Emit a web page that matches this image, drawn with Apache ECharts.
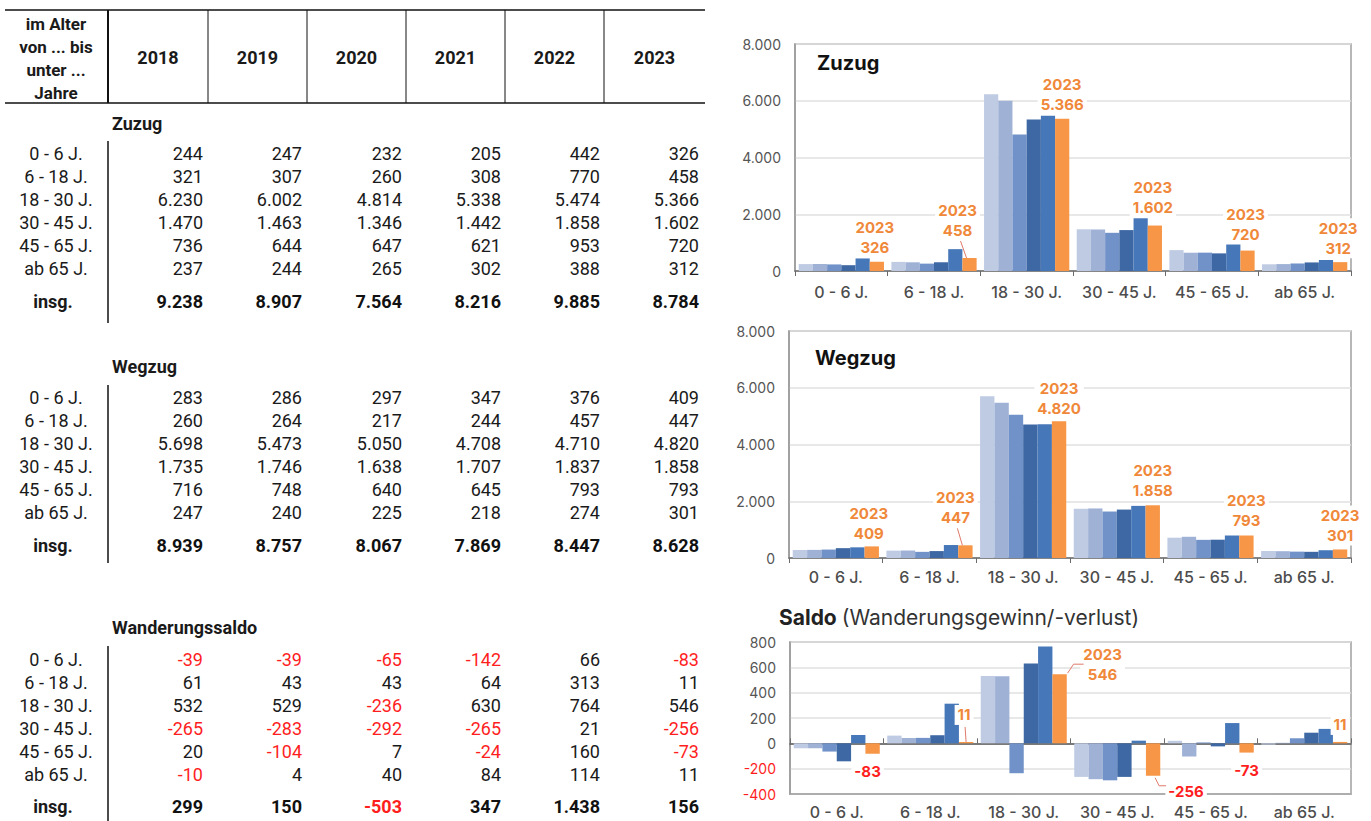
<!DOCTYPE html>
<html><head><meta charset="utf-8">
<script src="https://cdn.jsdelivr.net/npm/echarts@6/dist/echarts.min.js"></script>
<style>html,body{margin:0;padding:0;background:#fff}#c{width:1371px;height:821px}</style>
</head><body><div id="c"></div>
<script>
// ---------- DATA ----------
const categories = ['0 - 6 J.', '6 - 18 J.', '18 - 30 J.', '30 - 45 J.', '45 - 65 J.', 'ab 65 J.'];
const years = ['2018', '2019', '2020', '2021', '2022', '2023'];

const zuzug2018 = [244, 321, 6230, 1470, 736, 237];
const zuzug2019 = [247, 307, 6002, 1463, 644, 244];
const zuzug2020 = [232, 260, 4814, 1346, 647, 265];
const zuzug2021 = [205, 308, 5338, 1442, 621, 302];
const zuzug2022 = [442, 770, 5474, 1858, 953, 388];
const zuzug2023 = [326, 458, 5366, 1602, 720, 312];
const zuzugTotal = [9238, 8907, 7564, 8216, 9885, 8784];

const wegzug2018 = [283, 260, 5698, 1735, 716, 247];
const wegzug2019 = [286, 264, 5473, 1746, 748, 240];
const wegzug2020 = [297, 217, 5050, 1638, 640, 225];
const wegzug2021 = [347, 244, 4708, 1707, 645, 218];
const wegzug2022 = [376, 457, 4710, 1837, 793, 274];
const wegzug2023 = [409, 447, 4820, 1858, 793, 301];
const wegzugTotal = [8939, 8757, 8067, 7869, 8447, 8628];

const saldo2018 = [-39, 61, 532, -265, 20, -10];
const saldo2019 = [-39, 43, 529, -283, -104, 4];
const saldo2020 = [-65, 43, -236, -292, 7, 40];
const saldo2021 = [-142, 64, 630, -265, -24, 84];
const saldo2022 = [66, 313, 764, 21, 160, 114];
const saldo2023 = [-83, 11, 546, -256, -73, 11];
const saldoTotal = [299, 150, -503, 347, 1438, 156];

const headerLines = ['im Alter', 'von ... bis', 'unter ...', 'Jahre'];
const sectionTitles = ['Zuzug', 'Wegzug', 'Wanderungssaldo'];
const totalLabel = 'insg.';

// ---------- STYLE / LAYOUT ----------
const barColors = ['#bfcbe3', '#9fb2d6', '#7192c8', '#3e68a3', '#4677b8', '#f79646'];
const orange = '#f0883a';
const red = '#ff1e1e';
const leaderColor = '#e07a6a';
const tFont = 'Roboto, "Liberation Sans", sans-serif';
const cFont = 'Inter, "Noto Sans", sans-serif';

function fmt(n) {
  const s = String(Math.abs(n)).replace(/\B(?=(\d{3})+(?!\d))/g, '.');
  return (n < 0 ? '-' : '') + s;
}

// ---------- TABLE (graphic) ----------
const g = [];
function txt(x, y, text, o) {
  o = o || {};
  g.push({type: 'text', x: x, y: y, silent: true, z: 10, style: {
    text: text, fill: o.fill || '#1a1a1a', fontSize: o.size || 18, fontWeight: o.bold ? 'bold' : 'normal',
    fontFamily: tFont, align: o.align || 'center', verticalAlign: 'middle'}});
}
function line(x1, y1, x2, y2, w) {
  g.push({type: 'line', silent: true, shape: {x1: x1, y1: y1, x2: x2, y2: y2}, style: {stroke: '#111', lineWidth: w || 1}});
}
const colSep = [108, 208, 307, 406, 505, 604, 705];
const colRight = [203, 302, 402, 501, 600, 699];
line(5, 10, 705, 10, 1.5);
line(5, 103, 705, 103, 1.5);
colSep.slice(0, 6).forEach((x, i) => line(x, 10, x, 103, i === 0 ? 2 : 1));
headerLines.forEach((t, i) => txt(56, 24 + i * 23, t, {bold: true, size: 17}));
years.forEach((y, i) => txt((colSep[i] + colSep[i + 1]) / 2, 57, y, {bold: true, size: 18}));

const sections = [
  {data: [zuzug2018, zuzug2019, zuzug2020, zuzug2021, zuzug2022, zuzug2023], total: zuzugTotal, titleY: 123, rowY: 153, totalY: 301, vl: [141, 323], signed: false},
  {data: [wegzug2018, wegzug2019, wegzug2020, wegzug2021, wegzug2022, wegzug2023], total: wegzugTotal, titleY: 366, rowY: 397, totalY: 545, vl: [385, 563], signed: false},
  {data: [saldo2018, saldo2019, saldo2020, saldo2021, saldo2022, saldo2023], total: saldoTotal, titleY: 627, rowY: 659, totalY: 806, vl: [646, 821], signed: true}
];
sections.forEach((s, si) => {
  txt(112, s.titleY, sectionTitles[si], {bold: true, size: 18, align: 'left'});
  line(108, s.vl[0], 108, s.vl[1], 1.5);
  categories.forEach((c, ri) => {
    const y = s.rowY + ri * 23;
    txt(56, y, c, {size: 18});
    s.data.forEach((arr, yi) => {
      const v = arr[ri];
      txt(colRight[yi], y, fmt(v), {size: 18, align: 'right', fill: (s.signed && v < 0) ? red : '#1a1a1a'});
    });
  });
  txt(53, s.totalY, totalLabel, {bold: true, size: 18});
  s.total.forEach((v, yi) => txt(colRight[yi], s.totalY, fmt(v), {bold: true, size: 18, align: 'right', fill: (s.signed && v < 0) ? red : '#111'}));
});

// ---------- CHARTS ----------
// label nudges (pixels) for the 2023 labels
const moves = [
  [[-2, -1], [-12, -15], [0, -1], [-2, -5], [-2, -3], [-2, -1]],
  [[-3, 0], [-10, -15], [0, 0], [0, -2], [0, -2], [0, -1]],
  [[-5, 0], [-2, -14], [43, 13], [33, -2], [0, 0], [0, -4]]
];
// leader-line shapes (pixel offsets from the end of the 2023 bar), null = none
const leaders = [
  [null, [[-3, 0], [-9, -17]], null, null, null, null],
  [null, [[-3, 0], [-8, -17]], null, null, null, null],
  [null, [[0, 0], [-1, -15]], [[8, -1], [14, -10], [24, -10]], [[2, 2], [6, 10], [13, 10]], null, null]
];
const saldoShowYear = [false, false, true, false, false, false];

function seriesFor(ci, arrays) {
  const list = arrays.map((arr, yi) => {
    const s = {
      type: 'bar', name: years[yi], xAxisIndex: ci, yAxisIndex: ci,
      barGap: '0%', barCategoryGap: '8%',
      itemStyle: {color: barColors[yi]},
      emphasis: {disabled: true},
      data: arr.slice(),
      label: {show: false}
    };
    if (yi === 5) {
      s.z = 5;
      s.data = arr.map((v, j) => {
        const neg = v < 0;
        const showYear = ci < 2 || saldoShowYear[j];
        return {
          value: v,
          label: {
            show: true,
            position: neg ? 'bottom' : 'top',
            distance: (ci === 2 && neg) ? 8 : 3,
            formatter: (showYear ? years[5] + '\n' : '') + fmt(v),
            color: neg ? red : orange,
            fontFamily: cFont, fontWeight: 'bold', fontSize: 15, lineHeight: 20,
            backgroundColor: '#fff', padding: [0, 3]
          }
        };
      });
      s.labelLayout = function (p) {
        const m = moves[ci][p.dataIndex];
        return {dx: m[0], dy: m[1]};
      };
    }
    return s;
  });
  // leader lines, anchored at the 2023 bar end through the axes
  const last = arrays[5];
  const leaderData = [];
  last.forEach((v, j) => { if (leaders[ci][j]) leaderData.push([j, v]); });
  list.push({
    type: 'custom', xAxisIndex: ci, yAxisIndex: ci, z: 6, silent: true,
    data: leaderData,
    renderItem: function (params, api) {
      const j = api.value(0);
      const pt = api.coord([j, api.value(1)]);
      const band = api.size([1, 0])[0];
      const cx = pt[0] + band * (0.04 + 0.92 * 5.5 / 6 - 0.5);
      const pts = leaders[ci][j].map(o => [cx + o[0], pt[1] + o[1]]);
      return {type: 'polyline', shape: {points: pts}, style: {stroke: leaderColor, fill: null, lineWidth: 1}};
    }
  });
  return list;
}

const xBase = {
  type: 'category', data: categories,
  axisLine: {lineStyle: {color: '#6b6b6b', width: 1.5}},
  axisTick: {show: true, length: 5, lineStyle: {color: '#6b6b6b'}},
  axisLabel: {interval: 0, color: '#4d4d4d', fontSize: 16, fontFamily: cFont, fontWeight: 500}
};
const yBase = {
  type: 'value',
  axisLine: {show: true, lineStyle: {color: '#9a9a9a', width: 1.5}},
  axisTick: {show: false},
  splitLine: {lineStyle: {color: '#e0e0e0', width: 1.5}},
  axisLabel: {color: '#555', fontSize: 14, fontFamily: cFont, margin: 14, formatter: v => fmt(v)}
};
const gridBase = {show: true, borderColor: '#a0a0a0', borderWidth: 1.5, containLabel: false};

const option = {
  animation: false,
  backgroundColor: '#fff',
  title: [
    {text: 'Zuzug', left: 812, top: 48, textStyle: {fontFamily: cFont, fontSize: 20, fontWeight: 'bold', color: '#111'}},
    {text: 'Wegzug', left: 810, top: 343, textStyle: {fontFamily: cFont, fontSize: 20, fontWeight: 'bold', color: '#111'}},
    {text: '{b|Saldo} {n|(Wanderungsgewinn/-verlust)}', left: 774, top: 602,
     textStyle: {rich: {
       b: {fontFamily: cFont, fontSize: 21, fontWeight: 'bold', color: '#222'},
       n: {fontFamily: cFont, fontSize: 21, fontWeight: 'normal', color: '#333'}}}}
  ],
  grid: [
    Object.assign({left: 795, right: 20, top: 44, height: 227}, gridBase),
    Object.assign({left: 789, right: 20, top: 331, height: 227}, gridBase),
    Object.assign({left: 790, right: 20, top: 642, height: 152}, gridBase)
  ],
  xAxis: [
    Object.assign({}, xBase, {gridIndex: 0, axisLabel: Object.assign({}, xBase.axisLabel, {margin: 13})}),
    Object.assign({}, xBase, {gridIndex: 1, axisLabel: Object.assign({}, xBase.axisLabel, {margin: 11})}),
    Object.assign({}, xBase, {gridIndex: 2, axisLine: {onZero: false, lineStyle: {color: '#a0a0a0', width: 1.5}}, axisTick: {show: false},
      axisLabel: Object.assign({}, xBase.axisLabel, {margin: 10})}),
    Object.assign({}, xBase, {gridIndex: 2, axisLine: {onZero: true, lineStyle: {color: '#555', width: 1.5}}, axisLabel: {show: false}})
  ],
  yAxis: [
    Object.assign({}, yBase, {gridIndex: 0, min: 0, max: 8000, interval: 2000}),
    Object.assign({}, yBase, {gridIndex: 1, min: 0, max: 8000, interval: 2000}),
    Object.assign({}, yBase, {gridIndex: 2, min: -400, max: 800, interval: 200,
      axisLabel: Object.assign({}, yBase.axisLabel, {color: v => (v < 0 ? red : '#555')})})
  ],
  series: [].concat(
    seriesFor(0, [zuzug2018, zuzug2019, zuzug2020, zuzug2021, zuzug2022, zuzug2023]),
    seriesFor(1, [wegzug2018, wegzug2019, wegzug2020, wegzug2021, wegzug2022, wegzug2023]),
    seriesFor(2, [saldo2018, saldo2019, saldo2020, saldo2021, saldo2022, saldo2023])
  ),
  graphic: g
};

const chart = echarts.init(document.getElementById('c'), null, {renderer: 'svg', width: 1371, height: 821});
chart.setOption(option);
</script>
</body></html>
